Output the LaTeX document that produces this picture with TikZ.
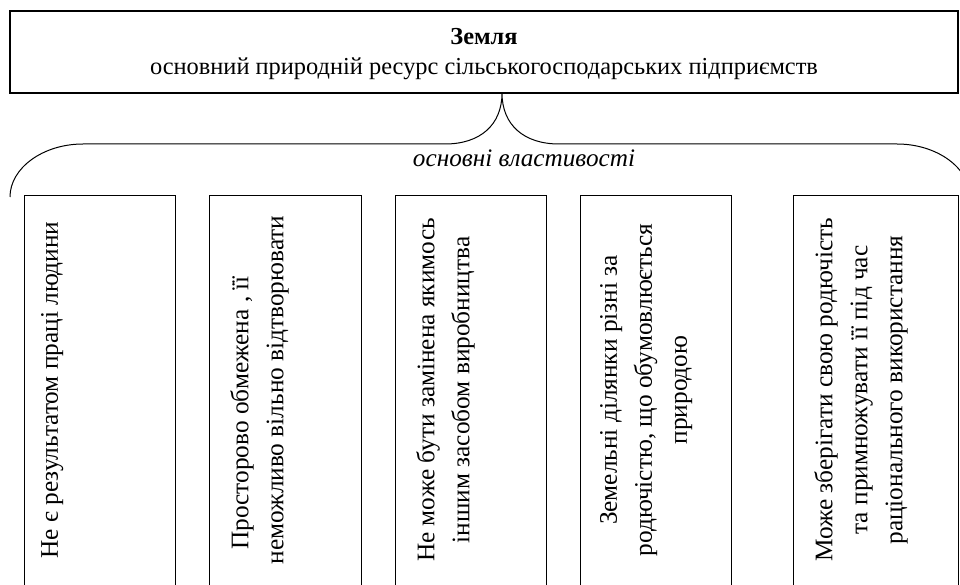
\documentclass[tikz,border=0pt]{standalone}
\usepackage{fontspec}
\setmainfont{Liberation Serif}
\usetikzlibrary{positioning}

\tikzset{
  framebox/.style={draw, line width=1.2pt, minimum height=420pt, anchor=north west, inner sep=0pt},
  proptext/.style={rotate=90, anchor=north, align=center, inner sep=0pt, font=\fontsize{25.3}{35}\selectfont},
}

\begin{document}
\begin{tikzpicture}[x=1pt, y=-1pt]
  \useasboundingbox (0,0) rectangle (960,585);
  \clip (0,0) rectangle (960,585);

  % Top box
  \draw[line width=1.2pt] (10,11) rectangle (958,93);
  \node[align=center, font=\fontsize{24.4}{30}\selectfont] (land) at (484,54)
        {\textbf{Земля}\\основний природній ресурс сільськогосподарських підприємств};

  % Brace under the top box
  \coordinate (tip) at (502,93);
  \draw[line width=1pt] (10,197) .. controls (10,168) and (43,144) .. (83,144) -- (445,144)
        .. controls (480,144) and (502,125) .. (tip)
        .. controls (502,125) and (524,144) .. (559,144) -- (897,144)
        .. controls (937,144) and (970,168) .. (970,197);
  \node[font=\itshape\fontsize{25.2}{28}\selectfont] (props) at (524,158) {основні властивості};

  % Property boxes
  \foreach \i/\x/\w/\o/\txt in {1/24/151/17/{Не є результатом праці людини},
      2/209/152/21/{Просторово обмежена , її\hspace*{46pt}\\неможливо вільно відтворювати},
      3/395/151/21/{Не може бути замінена якимось\\іншим засобом виробництва},
      4/580/151/20/{Земельні ділянки різні за\\родючістю, що обумовлюється\\природою},
      5/793/165/21/{Може зберігати свою родючість\\та примножувати її під час\\раціонального використання}} {
    \node[framebox, minimum width=\w pt] (box\i) at (\x,195) {};
    \node[proptext] (prop\i) at (\x+\o,390) {\txt};
  }
\end{tikzpicture}
\end{document}
